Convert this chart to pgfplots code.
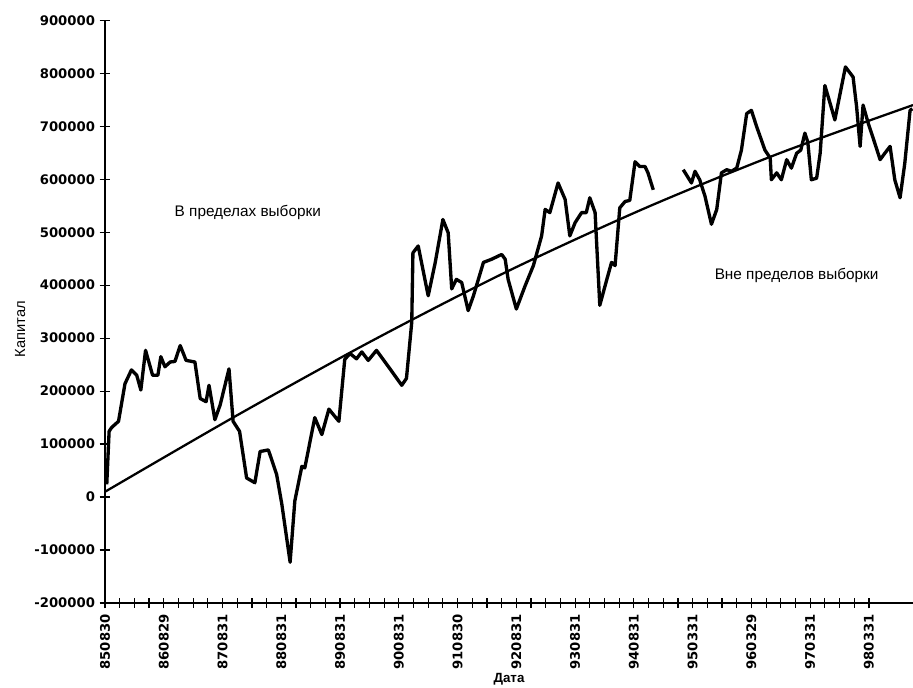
\documentclass[border=0pt]{standalone}
\usepackage{fontspec}
\setmainfont{DejaVu Sans}
\newfontfamily\arialfont{Liberation Sans}
\usepackage{pgfplots}
\pgfplotsset{compat=1.18}

\begin{document}
\begin{tikzpicture}
\path[use as bounding box] (-78.75pt,-63.75pt) rectangle (606pt,452.25pt);
\begin{axis}[
  at={(0,0)}, anchor=south west,
  scale only axis,
  width=606pt, height=437pt,
  xmin=0, xmax=13.75,
  ymin=-200000, ymax=900000,
  axis x line=bottom,
  axis y line=left,
  axis line style={line width=1.1pt, -},
  tick align=center,
  major tick length=8pt,
  minor tick length=7pt,
  tick style={line width=0.9pt, black},
  scaled y ticks=false,
  xtick={0,1,2,3,4,5,6,7,8,9,10,11,12,13},
  xticklabels={850830,860829,870831,880831,890831,900831,910830,920831,930831,940831,950331,960329,970331,980331},
  minor x tick num=3,
  ytick={-200000,-100000,0,100000,200000,300000,400000,500000,600000,700000,800000,900000},
  yticklabels={-200000,-100000,0,100000,200000,300000,400000,500000,600000,700000,800000,900000},
  ticklabel style={font=\fontsize{9.9}{11}\selectfont\bfseries},
  xticklabel style={rotate=90, anchor=east, xshift=-1pt},
  yticklabel style={anchor=east},
  xlabel={Дата},
  ylabel={Капитал},
  xlabel style={font=\arialfont\fontsize{10}{12}\selectfont\bfseries, yshift=4pt},
  ylabel style={font=\arialfont\fontsize{11}{13}\selectfont, at={(ticklabel cs:0.47)}},
  clip=false,
]
% capital, in-sample segment and first out-of-sample stretch
\addplot[black, line width=2.5pt, line join=round] coordinates {
(0.03,24000) (0.07,124000) (0.11,131000) (0.23,143000) (0.34,214000)
(0.45,240000) (0.54,230000) (0.61,202000) (0.69,277000) (0.81,230000)
(0.90,230000) (0.95,265000) (1.02,246000) (1.11,255000) (1.19,256000)
(1.28,286000) (1.38,258000) (1.53,255000) (1.62,186000) (1.72,180000)
(1.77,211000) (1.87,146000) (1.96,174000) (2.11,242000) (2.18,143000)
(2.29,124000) (2.41,36000) (2.55,27000) (2.64,86000) (2.78,89000)
(2.92,43000) (3.01,-14000) (3.15,-123000) (3.23,-7500) (3.35,58000)
(3.40,55000) (3.57,150000) (3.69,118000) (3.81,166000) (3.98,143000)
(4.08,260000) (4.17,271000) (4.28,261000) (4.37,274000) (4.48,258000)
(4.62,277000) (4.85,242000) (5.05,211000) (5.13,224000) (5.22,330000)
(5.24,461000) (5.33,474000) (5.50,380000) (5.62,443000) (5.75,524000)
(5.84,499000) (5.90,393000) (5.98,411000) (6.07,405000) (6.18,352000)
(6.27,380000) (6.44,443000) (6.58,449000) (6.75,458000) (6.81,449000)
(6.86,411000) (7.00,355000) (7.15,399000) (7.29,437000) (7.43,493000)
(7.49,543000) (7.57,537000) (7.71,593000) (7.83,562000) (7.91,493000)
(8.00,518000) (8.11,537000) (8.19,537000) (8.25,565000) (8.34,537000)
(8.42,362000) (8.54,411000) (8.62,443000) (8.68,437000) (8.76,546000)
(8.85,558000) (8.93,560000) (9.02,633000) (9.10,624000) (9.19,624000)
(9.24,612000) (9.33,580000)
};
% capital, after the gap
\addplot[black, line width=2.5pt, line join=round] coordinates {
(9.84,618000) (9.98,593000) (10.04,615000) (10.12,599000) (10.21,568000)
(10.32,515000) (10.41,543000) (10.49,612000) (10.58,618000) (10.66,615000)
(10.75,621000) (10.83,655000) (10.92,724000) (11.00,730000) (11.09,699000)
(11.17,674000) (11.23,655000) (11.32,640000) (11.34,599000) (11.43,612000)
(11.51,599000) (11.60,637000) (11.68,621000) (11.77,649000) (11.84,655000)
(11.91,687000) (11.96,670000) (12.02,599000) (12.11,602000) (12.17,649000)
(12.25,777000) (12.34,743000) (12.42,712000) (12.51,762000) (12.60,812000)
(12.73,793000) (12.79,737000) (12.85,662000) (12.90,740000) (12.99,705000)
(13.10,668000) (13.19,637000) (13.27,649000) (13.36,662000) (13.44,599000)
(13.53,565000) (13.61,630000) (13.70,730000) (13.74,733000)
};
% trend
\addplot[black, line width=1.7pt, smooth] coordinates {
(0,10000) (2.21,152000) (4.51,293000) (6.81,424000) (9.14,543000)
(11.43,647000) (13.75,740000)
};
\node[font=\arialfont\fontsize{11.5}{13}\selectfont] at (axis cs:2.43,538000) {В пределах выборки};
\node[font=\arialfont\fontsize{11.5}{13}\selectfont] at (axis cs:11.77,418000) {Вне пределов выборки};
\end{axis}
\end{tikzpicture}
\end{document}
